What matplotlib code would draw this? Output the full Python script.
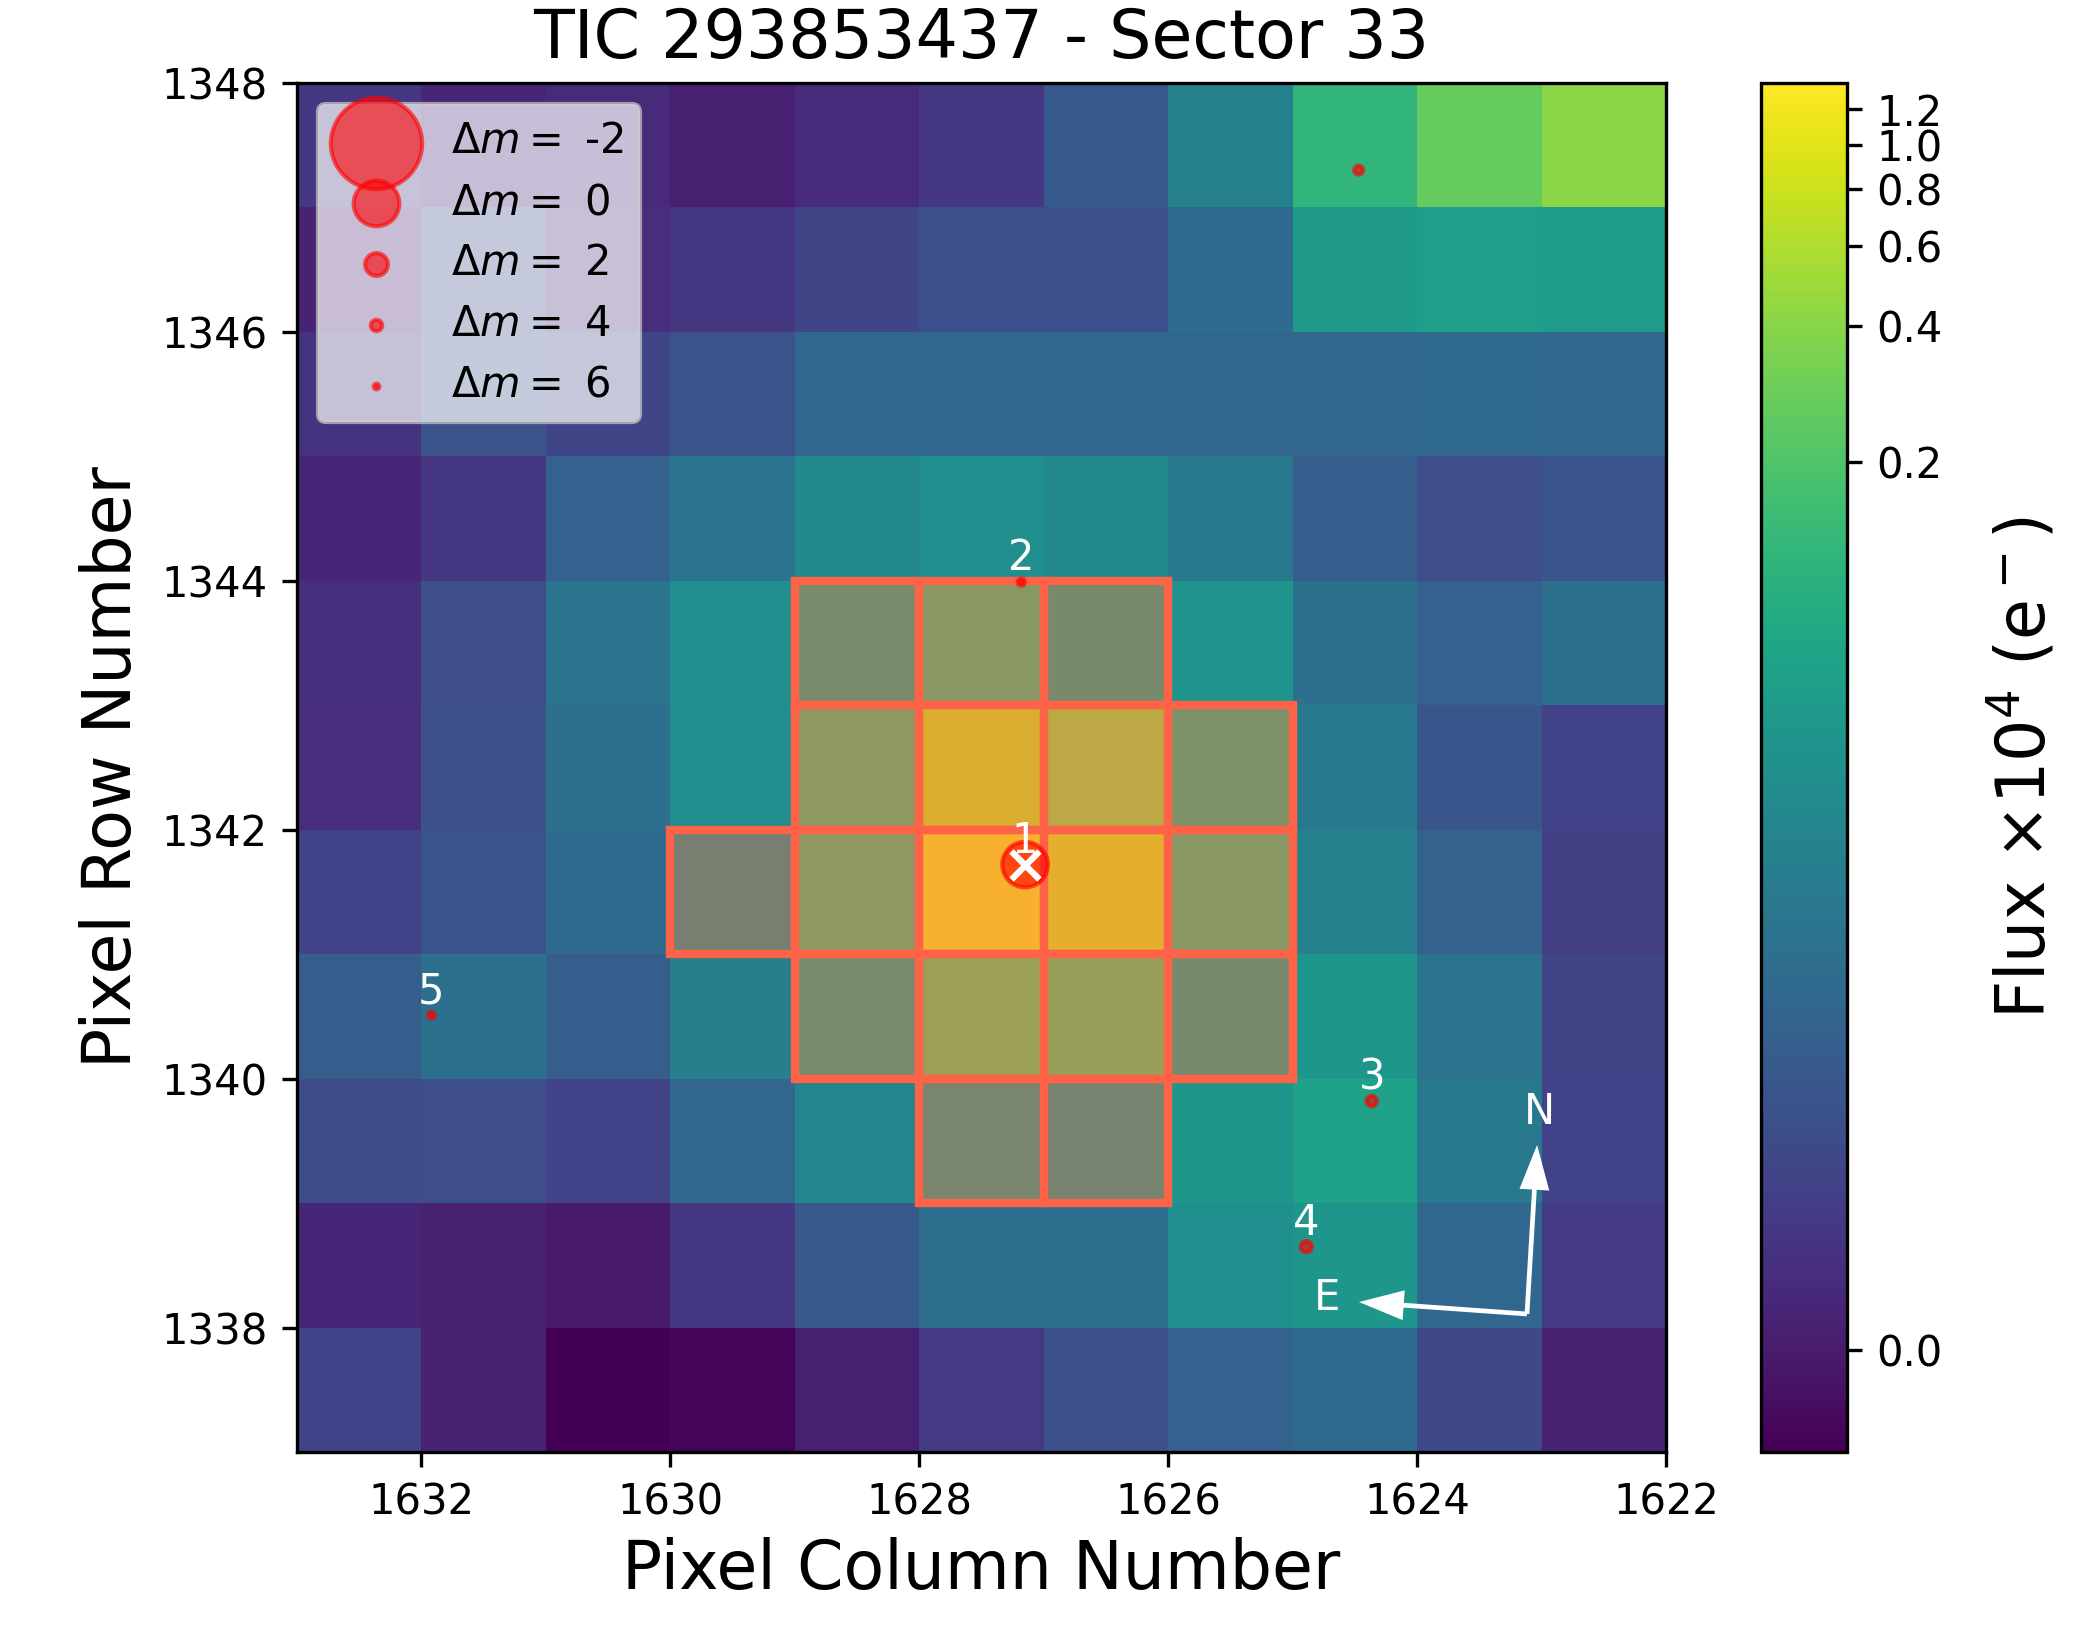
import numpy as np
import matplotlib
matplotlib.use('Agg')
import matplotlib.pyplot as plt
from matplotlib.colors import FuncNorm
from matplotlib.patches import Rectangle

# pixel grid edges
col_edges = [1633, 1632, 1631, 1630, 1629, 1628, 1627, 1626, 1625, 1624, 1623, 1622]
row_edges = [1337, 1338, 1339, 1340, 1341, 1342, 1343, 1344, 1345, 1346, 1347, 1348]

# flux x 1e4 e-, listed from the top row (1347) to the bottom row (1337)
row_1347 = [0.0018, 0.0006, 0.0008, 0.0002, 0.0008, 0.0018, 0.0070, 0.0256, 0.125, 0.269, 0.409]
row_1346 = [0.0004, 0.0047, 0.0010, 0.0018, 0.0034, 0.0052, 0.0052, 0.0127, 0.0532, 0.0615, 0.0572]
row_1345 = [0.0015, 0.0058, 0.0034, 0.0058, 0.0108, 0.0108, 0.0108, 0.0108, 0.0108, 0.0117, 0.0108]
row_1344 = [0.0006, 0.0018, 0.0091, 0.0175, 0.0320, 0.0398, 0.0320, 0.0204, 0.0083, 0.0047, 0.0058]
row_1343 = [0.0013, 0.0047, 0.0175, 0.0398, 0.082, 0.144, 0.076, 0.0461, 0.0149, 0.0091, 0.0149]
row_1342 = [0.0010, 0.0052, 0.0149, 0.0370, 0.165, 0.72, 0.438, 0.105, 0.0204, 0.0063, 0.0031]
row_1341 = [0.0031, 0.0058, 0.0127, 0.0428, 0.165, 1.22, 0.85, 0.144, 0.0256, 0.0099, 0.0027]
row_1340 = [0.0083, 0.0149, 0.0083, 0.0237, 0.082, 0.235, 0.221, 0.076, 0.0495, 0.0175, 0.0034]
row_1339 = [0.0043, 0.0047, 0.0031, 0.0108, 0.0297, 0.0615, 0.0572, 0.0495, 0.071, 0.0204, 0.0031]
row_1338 = [0.0006, 0.0003, -0.0001, 0.0018, 0.0070, 0.0137, 0.0137, 0.0398, 0.0495, 0.0108, 0.0021]
row_1337 = [0.0031, 0.0004, -0.0009, -0.00081, 0.0002, 0.0021, 0.0052, 0.0091, 0.0127, 0.0038, 0.0004]
flux = [row_1337, row_1338, row_1339, row_1340, row_1341, row_1342, row_1343, row_1344, row_1345, row_1346, row_1347]

# aperture pixels, by row, as the column number of each pixel's left edge
aperture_rows = {
    1343: [1629, 1628, 1627],
    1342: [1629, 1628, 1627, 1626],
    1341: [1630, 1629, 1628, 1627, 1626],
    1340: [1629, 1628, 1627, 1626],
    1339: [1628, 1627],
}

# stars
star_labels = ['1', '2', '3', '4', '5', '']
star_cols = [1627.15, 1627.18, 1624.365, 1624.89, 1631.92, 1624.47]
star_rows = [1341.72, 1343.99, 1339.82, 1338.65, 1340.51, 1347.30]
star_sizes = [120, 3, 6.5, 7.5, 2.7, 4.6]

# legend
legend_dm = ['-2', '0', '2', '4', '6']
legend_sizes = [480, 120, 30, 7.5, 1.9]

# compass
compass_corner = (1623.117, 1338.109)
compass_n_tip = (1623.036, 1339.467)
compass_e_tip = (1624.467, 1338.205)
compass_n_text = (1623.02, 1339.73)
compass_e_text = (1624.72, 1338.24)

x_ticks = [1632, 1630, 1628, 1626, 1624, 1622]
y_ticks = [1338, 1340, 1342, 1344, 1346, 1348]
cbar_ticks = [0.0, 0.2, 0.4, 0.6, 0.8, 1.0, 1.2]

vmin, vmax = -0.00092, 1.37


def forward(v):
    x = (np.asarray(v, dtype=float) - vmin) / (vmax - vmin)
    return np.log(1000 * np.clip(x, 0, None) + 1) / np.log(1001)


def inverse(y):
    x = (1001 ** np.asarray(y, dtype=float) - 1) / 1000
    return x * (vmax - vmin) + vmin


fig = plt.figure(figsize=(6.93, 5.5), dpi=300)
ax = fig.add_axes([297 / 2079, 198 / 1650, 1369 / 2079, 1369 / 1650])
cax = fig.add_axes([1761 / 2079, 198 / 1650, 86 / 2079, 1369 / 1650])

norm = FuncNorm((forward, inverse), vmin=vmin, vmax=vmax)
mesh = ax.pcolormesh(col_edges, row_edges, np.array(flux), cmap='viridis', norm=norm, shading='flat')
ax.set_xlim(1633, 1622)
ax.set_ylim(1337, 1348)
ax.set_xticks(x_ticks)
ax.set_yticks(y_ticks)

for r, cols in aperture_rows.items():
    for c in cols:
        ax.add_patch(Rectangle((c - 1, r), 1, 1, facecolor='tomato', edgecolor='none', alpha=0.4, zorder=3))
        ax.add_patch(Rectangle((c - 1, r), 1, 1, fill=False, edgecolor='tomato', lw=2, zorder=3.1))

ax.scatter(star_cols, star_rows, s=star_sizes, c='red', edgecolors='red', alpha=0.6, lw=1, zorder=4)
ax.scatter(star_cols[0], star_rows[0], s=45, marker='x', c='white', lw=1.5, zorder=5)
for lab, cx, cy in zip(star_labels, star_cols, star_rows):
    if lab:
        ax.text(cx, cy + 0.095, lab, color='white', fontsize=10, ha='center', va='baseline', zorder=6)

for tip in (compass_n_tip, compass_e_tip):
    ax.arrow(compass_corner[0], compass_corner[1], tip[0] - compass_corner[0], tip[1] - compass_corner[1],
             width=0.038, head_width=0.24, head_length=0.36, length_includes_head=True,
             facecolor='white', edgecolor='none', lw=0, zorder=5)
ax.text(*compass_n_text, 'N', color='white', fontsize=10, ha='center', va='center', zorder=6)
ax.text(*compass_e_text, 'E', color='white', fontsize=10, ha='center', va='center', zorder=6)

handles = [ax.scatter([], [], s=s, c='red', edgecolors='red', alpha=0.6, lw=1) for s in legend_sizes]
leg = ax.legend(handles, [r'$\Delta m=$ ' + d for d in legend_dm], loc='upper left', scatterpoints=1,
                fontsize=10, framealpha=0.7, labelspacing=0.45, handletextpad=0.8)
leg.set_zorder(7)

ax.set_xlabel('Pixel Column Number', fontsize=16, labelpad=3.4)
ax.set_ylabel('Pixel Row Number', fontsize=16)
ax.set_title('TIC 293853437 - Sector 33', fontsize=16, pad=6)

cb = fig.colorbar(mesh, cax=cax)
cb.set_ticks(cbar_ticks)
cb.set_ticklabels(['%.1f' % t for t in cbar_ticks])
cb.minorticks_off()
cb.set_label(r'Flux $\times 10^4$ (e$^-$)', fontsize=16, labelpad=10.6)

fig.savefig('out.png', dpi=300)
